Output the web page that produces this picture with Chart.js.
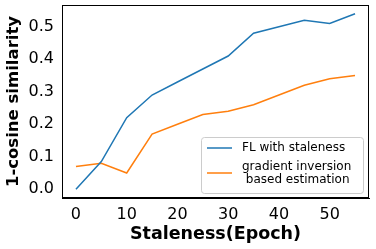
<!DOCTYPE html>
<html>
<head>
<meta charset="UTF-8"/>
<script src="https://cdn.jsdelivr.net/npm/chart.js"></script>
<style>
  html, body { margin: 0; padding: 0; background: white; }
  #wrap { width: 376px; height: 249px; }
</style>
</head>
<body>
<div id="wrap"><canvas id="c" width="376" height="249"></canvas></div>
<script>
  const staleness = [0, 5, 10, 15, 20, 25, 30, 35, 40, 45, 50, 55];
  const flStale = [0.0, 0.085, 0.22, 0.29, 0.33, 0.37, 0.41, 0.48, 0.50, 0.52, 0.51, 0.54];
  const gradInv = [0.07, 0.08, 0.05, 0.17, 0.20, 0.23, 0.24, 0.26, 0.29, 0.32, 0.34, 0.35];
  const xTicks = [0, 10, 20, 30, 40, 50];
  const yTicks = [0.0, 0.1, 0.2, 0.3, 0.4, 0.5];
  const legendLabels = [['FL with staleness'], ['gradient inversion', ' based estimation']];

  const font = 'DejaVu Sans';

  // frame + legend inside the plot, matplotlib-like
  const boxPlugin = {
    id: 'boxLegend',
    afterDraw(chart) {
      const { ctx, chartArea: a } = chart;
      ctx.save();
      ctx.strokeStyle = '#000';
      ctx.lineWidth = 1;
      ctx.strokeRect(Math.round(a.left) + 0.5, Math.round(a.top) + 0.5,
                     Math.round(a.right - a.left) - 1, Math.round(a.bottom - a.top) - 1);

      // legend box
      const bx = Math.round(a.right) - 168, by = Math.round(a.bottom) - 61, bw = 162, bh = 56;
      ctx.fillStyle = 'rgba(255,255,255,0.8)';
      ctx.strokeStyle = '#cccccc';
      ctx.beginPath();
      ctx.roundRect(bx + 0.5, by + 0.5, bw, bh, 3);
      ctx.fill();
      ctx.stroke();

      ctx.font = '12px ' + font;
      ctx.fillStyle = '#000';
      ctx.textBaseline = 'middle';
      const rowY = [by + 11, by + 36];
      chart.data.datasets.forEach((ds, i) => {
        const lines = legendLabels[i];
        const midY = rowY[i];
        ctx.strokeStyle = ds.borderColor;
        ctx.lineWidth = 1.5;
        ctx.beginPath();
        ctx.moveTo(bx + 6, midY);
        ctx.lineTo(bx + 31, midY);
        ctx.stroke();
        lines.forEach((t, j) => {
          const ty = midY - (lines.length - 1) * 6.5 + j * 13;
          ctx.fillText(t, bx + 41, ty);
        });
      });
      ctx.restore();
    }
  };

  new Chart(document.getElementById('c'), {
    type: 'line',
    data: {
      labels: staleness,
      datasets: [
        { label: 'FL with staleness', data: staleness.map((x, i) => ({ x, y: flStale[i] })),
          borderColor: '#1f77b4', borderWidth: 1.5, pointRadius: 0, tension: 0, fill: false },
        { label: 'gradient inversion based estimation', data: staleness.map((x, i) => ({ x, y: gradInv[i] })),
          borderColor: '#ff7f0e', borderWidth: 1.5, pointRadius: 0, tension: 0, fill: false }
      ]
    },
    options: {
      responsive: false,
      animation: false,
      layout: { padding: { top: 5, right: 7, left: 0, bottom: 0 } },
      plugins: { legend: { display: false }, tooltip: { enabled: false } },
      scales: {
        x: {
          type: 'linear', min: -2.75, max: 57.75,
          afterBuildTicks: s => { s.ticks = xTicks.map(v => ({ value: v })); },
          afterFit: s => { s.height = 51; s.paddingLeft = 0; s.paddingRight = 0; },
          grid: { display: false, drawTicks: true, tickLength: 4, tickColor: '#000' },
          border: { display: true, color: '#000' },
          ticks: { color: '#000', font: { family: font, size: 16 }, padding: 3, maxRotation: 0 },
          title: { display: true, text: 'Staleness(Epoch)', color: '#000',
                   font: { family: font, size: 17.5, weight: 'bold' }, padding: { top: 0 } }
        },
        y: {
          min: -0.027, max: 0.567,
          afterBuildTicks: s => { s.ticks = yTicks.map(v => ({ value: v })); },
          afterFit: s => { s.width = 62; s.paddingTop = 0; s.paddingBottom = 0; },
          grid: { display: false, drawTicks: true, tickLength: 4, tickColor: '#000' },
          border: { display: true, color: '#000' },
          ticks: { color: '#000', font: { family: font, size: 16 }, padding: 4,
                   callback: v => v.toFixed(1) },
          title: { display: true, text: '1-cosine similarity', color: '#000',
                   font: { family: font, size: 16.5, weight: 'bold' }, padding: { bottom: 0 } }
        }
      }
    },
    plugins: [boxPlugin]
  });
</script>
</body>
</html>
